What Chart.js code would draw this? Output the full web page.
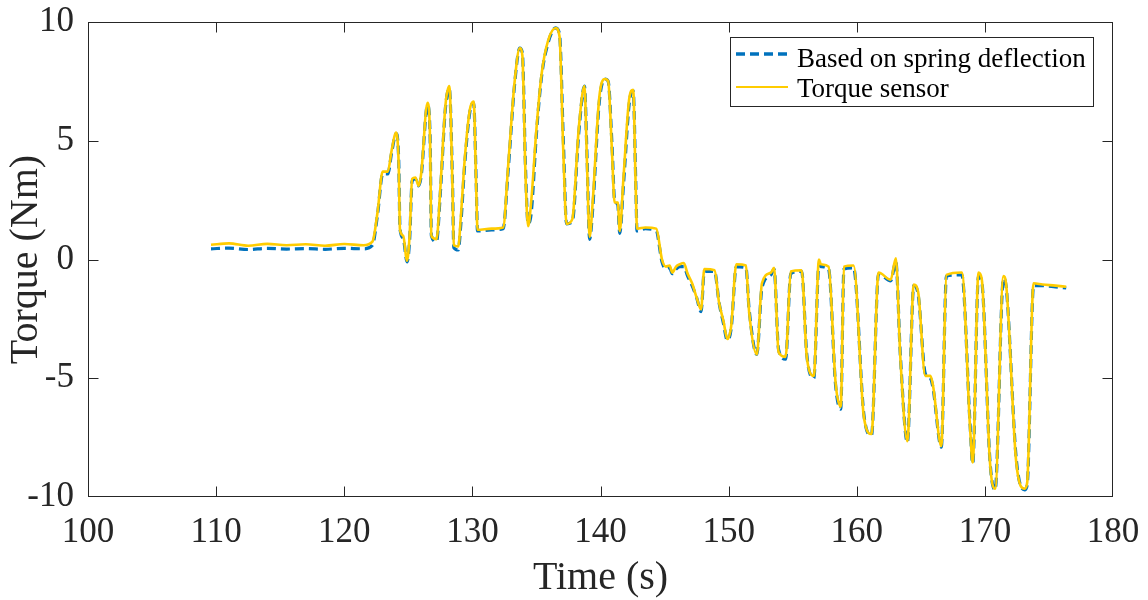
<!DOCTYPE html>
<html>
<head>
<meta charset="utf-8">
<script src="https://cdn.jsdelivr.net/npm/chart.js@4.4.1/dist/chart.umd.min.js"></script>
<style>
  html, body { margin: 0; padding: 0; background: #fff; }
</style>
</head>
<body>
<canvas id="myChart" width="1148" height="600"></canvas>
<script>
// time stamps (s)
var time = [
  109.6, 111.0, 112.5, 114.0, 115.5, 117.0, 118.5, 120.0, 121.5, 122.2,
  122.6, 123.0, 123.4, 123.7, 124.05, 124.25, 124.35, 124.6, 124.9, 125.1,
  125.3, 125.55, 125.8, 126.0, 126.5, 126.7, 126.8, 127.2, 127.5, 127.9,
  128.2, 128.45, 128.55, 128.9, 129.1, 129.4, 129.8, 130.1, 130.3, 130.4,
  131.5, 132.4, 132.8, 133.3, 133.7, 133.9, 134.15, 134.35, 134.6, 135.0,
  135.4, 135.9, 136.5, 136.8, 137.1, 137.35, 137.8, 138.3, 138.75, 138.95,
  139.15, 139.4, 139.9, 140.35, 140.6, 140.9, 141.1, 141.35, 141.5, 141.8,
  142.25, 142.55, 142.75, 142.85, 143.5, 144.35, 144.8, 145.1, 145.4, 145.6,
  145.9, 146.2, 146.5, 146.8, 147.15, 147.5, 147.85, 148.1, 148.9, 149.25,
  149.6, 149.9, 150.2, 150.6, 151.35, 151.6, 152.2, 152.6, 153.3, 153.55,
  153.9, 154.45, 154.85, 155.7, 156.1, 156.65, 157.05, 157.2, 157.8, 158.35,
  158.75, 159.0, 159.75, 160.55, 161.15, 161.7, 162.65, 163.05, 163.4, 163.95,
  164.45, 164.8, 165.35, 165.75, 165.95, 166.6, 167.0, 168.2, 168.85, 169.05,
  169.5, 169.75, 170.4, 170.8, 171.45, 171.65, 172.45, 173.1, 173.3, 173.8,
  174.5, 175.5, 176.35
];

// torque from spring deflection (Nm)
var springTorque = [
  0.45, 0.48, 0.42, 0.47, 0.44, 0.46, 0.43, 0.47, 0.45, 0.6,
  1.9, 3.6, 3.6, 4.5, 5.3, 4.2, 1.3, 0.9, -0.1, 0.8,
  3.3, 3.4, 3.1, 3.5, 6.5, 5.2, 1.0, 0.75, 2.8, 6.4,
  7.2, 3.2, 0.5, 0.4, 1.5, 4.0, 6.2, 6.6, 3.2, 1.2,
  1.25, 1.3, 3.8, 7.4, 8.9, 8.7, 3.8, 1.5, 2.0, 5.3,
  7.7, 9.1, 9.75, 9.5, 5.0, 1.5, 1.6, 5.3, 7.3, 4.3,
  0.85, 2.2, 6.6, 7.6, 7.5, 4.8, 2.5, 2.3, 1.1, 3.2,
  6.6, 7.1, 3.3, 1.2, 1.3, 1.2, -0.1, -0.4, -0.35, -0.6,
  -0.4, -0.3, -0.3, -0.7, -1.1, -1.6, -2.2, -0.5, -0.5, -1.8,
  -2.7, -3.4, -2.9, -0.3, -0.35, -2.1, -4.0, -1.2, -0.65, -0.4,
  -3.8, -4.2, -0.6, -0.5, -4.0, -5.0, -0.2, -0.3, -0.4, -5.3,
  -6.3, -0.4, -0.35, -6.5, -7.4, -0.6, -0.9, -0.1, -4.0, -7.7,
  -1.1, -1.5, -4.8, -5.0, -5.4, -7.9, -0.7, -0.65, -7.0, -8.6,
  -0.7, -0.9, -8.5, -9.7, -0.8, -1.1, -8.4, -9.7, -9.5, -1.1,
  -1.1, -1.15, -1.2
];

// torque sensor reading (Nm)
var sensorTorque = [
  0.62, 0.68, 0.58, 0.66, 0.6, 0.64, 0.58, 0.65, 0.6, 0.75,
  2.0, 3.7, 3.7, 4.6, 5.35, 4.0, 1.25, 1.0, -0.05, 1.0,
  3.4, 3.45, 3.1, 3.6, 6.6, 5.0, 1.0, 0.85, 3.0, 6.5,
  7.3, 3.0, 0.6, 0.55, 1.8, 4.2, 6.3, 6.65, 3.0, 1.25,
  1.3, 1.35, 4.0, 7.5, 8.9, 8.6, 3.5, 1.4, 2.5, 5.5,
  7.8, 9.2, 9.75, 9.4, 4.5, 1.5, 1.7, 5.5, 7.3, 4.0,
  0.95, 2.5, 6.8, 7.6, 7.5, 4.5, 2.4, 2.4, 1.2, 3.5,
  6.8, 7.15, 3.0, 1.3, 1.35, 1.3, 0.0, -0.3, -0.25, -0.55,
  -0.3, -0.2, -0.15, -0.6, -1.0, -1.6, -2.1, -0.4, -0.45, -1.8,
  -2.6, -3.35, -2.8, -0.2, -0.25, -2.2, -4.0, -1.0, -0.55, -0.35,
  -3.9, -4.1, -0.5, -0.45, -4.1, -4.9, 0.0, -0.2, -0.3, -5.2,
  -6.2, -0.3, -0.25, -6.6, -7.35, -0.55, -0.85, 0.05, -4.1, -7.65,
  -1.05, -1.4, -4.9, -4.9, -5.3, -7.85, -0.65, -0.55, -7.15, -8.55,
  -0.55, -0.8, -8.55, -9.65, -0.7, -1.0, -8.55, -9.65, -9.4, -1.0,
  -1.05, -1.1, -1.15
];

var seriesLabels = ['Based on spring deflection', 'Torque sensor'];

function toPoints(ys) {
  return time.map(function (t, i) { return { x: t, y: ys[i] }; });
}

var serif = "'Liberation Serif', 'Times New Roman', serif";
var axisColor = '#262626';

function clamp(v, lo, hi) { return Math.min(Math.max(v, lo), hi); }

// MATLAB style frame: box with inward ticks on all four sides, plus legend box
var matlabFrame = {
  id: 'matlabFrame',
  afterDraw: function (chart) {
    var ctx = chart.ctx, a = chart.chartArea;
    var xs = chart.scales.x, ys = chart.scales.y;
    var len = 10;
    var L = Math.round(a.left) + 0.5, R = Math.round(a.right) - 0.5;
    var T = Math.round(a.top) + 0.5, B = Math.round(a.bottom) - 0.5;
    ctx.save();
    ctx.strokeStyle = axisColor;
    ctx.lineWidth = 1;
    ctx.strokeRect(L, T, R - L, B - T);
    ctx.beginPath();
    xs.ticks.forEach(function (t) {
      var px = clamp(Math.round(xs.getPixelForValue(t.value)) + 0.5, L, R);
      ctx.moveTo(px, B); ctx.lineTo(px, B - len);
      ctx.moveTo(px, T); ctx.lineTo(px, T + len);
    });
    ys.ticks.forEach(function (t) {
      var py = clamp(Math.round(ys.getPixelForValue(t.value)) + 0.5, T, B);
      ctx.moveTo(L, py); ctx.lineTo(L + len, py);
      ctx.moveTo(R, py); ctx.lineTo(R - len, py);
    });
    ctx.stroke();

    // legend
    var w = 363, h = 69;
    var x0 = Math.round(a.right) - 20 - w, y0 = Math.round(a.top) + 15;
    ctx.fillStyle = '#fff';
    ctx.fillRect(x0, y0, w, h);
    ctx.strokeRect(x0 + 0.5, y0 + 0.5, w, h);
    var lineY = [17, 50], textY = [30, 60];
    chart.data.datasets.forEach(function (ds, i) {
      ctx.save();
      ctx.strokeStyle = ds.borderColor;
      ctx.lineWidth = i === 0 ? 3.5 : 2;
      ctx.setLineDash(ds.borderDash || []);
      ctx.beginPath();
      ctx.moveTo(x0 + 6, y0 + lineY[i]);
      ctx.lineTo(x0 + 58, y0 + lineY[i]);
      ctx.stroke();
      ctx.restore();
      ctx.fillStyle = '#000';
      ctx.font = '27px ' + serif;
      ctx.textBaseline = 'alphabetic';
      ctx.textAlign = 'left';
      ctx.fillText(ds.label, x0 + 67, y0 + textY[i]);
    });
    ctx.restore();
  }
};

function noEdgePadding(s) {
  s.paddingTop = 0; s.paddingBottom = 0;
  s.paddingLeft = 0; s.paddingRight = 0;
}

var ctx = document.getElementById('myChart').getContext('2d');
var myChart = new Chart(ctx, {
  type: 'line',
  data: {
    datasets: [{
      label: seriesLabels[0],
      data: toPoints(springTorque),
      borderColor: '#0072BD',
      borderWidth: 3.2,
      borderDash: [9, 5],
      pointRadius: 0,
      cubicInterpolationMode: 'monotone',
      order: 1
    }, {
      label: seriesLabels[1],
      data: toPoints(sensorTorque),
      borderColor: 'rgb(255,204,0)',
      borderWidth: 2.6,
      pointRadius: 0,
      cubicInterpolationMode: 'monotone',
      order: 0
    }]
  },
  options: {
    responsive: false,
    animation: false,
    layout: { padding: { top: 22, right: 35, left: 0, bottom: 0 } },
    plugins: {
      legend: { display: false },
      tooltip: { enabled: false }
    },
    scales: {
      x: {
        type: 'linear',
        min: 100,
        max: 180,
        afterFit: function (s) { s.height = 103; noEdgePadding(s); },
        grid: { display: false, drawTicks: false },
        border: { display: false },
        ticks: {
          stepSize: 10,
          padding: 15,
          color: axisColor,
          font: { family: serif, size: 35 }
        },
        title: {
          display: true,
          text: 'Time (s)',
          color: axisColor,
          padding: 2,
          font: { family: serif, size: 40, lineHeight: 1 }
        }
      },
      y: {
        min: -10,
        max: 10,
        afterFit: function (s) { s.width = 88; noEdgePadding(s); },
        grid: { display: false, drawTicks: false },
        border: { display: false },
        ticks: {
          stepSize: 5,
          padding: 14,
          color: axisColor,
          font: { family: serif, size: 35 }
        },
        title: {
          display: true,
          text: 'Torque (Nm)',
          color: axisColor,
          padding: 6,
          font: { family: serif, size: 40, lineHeight: 1 }
        }
      }
    }
  },
  plugins: [matlabFrame]
});
</script>
</body>
</html>
